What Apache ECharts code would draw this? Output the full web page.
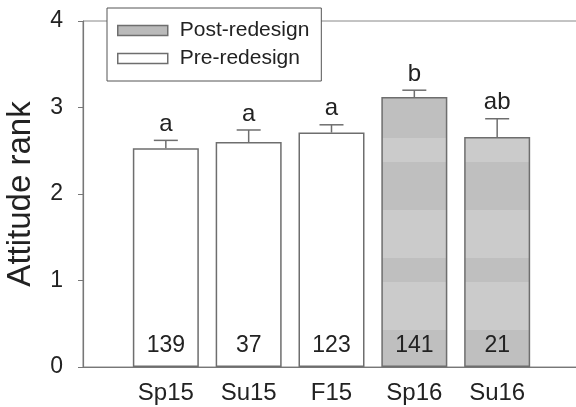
<!DOCTYPE html>
<html>
<head>
<meta charset="utf-8">
<script src="https://cdn.jsdelivr.net/npm/echarts@6/dist/echarts.min.js"></script>
<style>
  html, body { margin: 0; padding: 0; background: #fff; }
  #main { width: 576px; height: 407px; }
</style>
</head>
<body>
<div id="main"></div>
<script>
// data
const categories = ['Sp15', 'Su15', 'F15', 'Sp16', 'Su16'];
const preValues = [2.53, 2.60, 2.71, null, null];
const postValues = [null, null, null, 3.12, 2.66];
const errorUpper = [2.62, 2.74, 2.80, 3.20, 2.87];
const groupLetters = ['a', 'a', 'a', 'b', 'ab'];
const sampleSizes = [139, 37, 123, 141, 21];
const yTicks = [0, 1, 2, 3, 4];

const font = '"Liberation Sans", Arial, sans-serif';
const lineGray = '#6e6e6e';

function toPoints(arr) {
  const out = [];
  arr.forEach((v, i) => { if (v != null) out.push([i + 1, v]); });
  return out;
}

// scan banding of the grey fill (pixel coords)
const bandDark = '#bfbfbf';
const bandLight = '#cbcbcb';
const bands = [138, 162, 210, 258, 282, 330];
const stops = [];
let dark = true;
let prev = 0;
bands.forEach(b => {
  const c = dark ? bandDark : bandLight;
  stops.push({ offset: prev / 407, color: c }, { offset: b / 407, color: c });
  prev = b;
  dark = !dark;
});
stops.push({ offset: prev / 407, color: bandDark }, { offset: 1, color: bandDark });
const postFill = { type: 'linear', x: 0, y: 0, x2: 0, y2: 407, colorStops: stops, global: true };

const barLabel = {
  show: true,
  position: 'insideBottom',
  distance: 10,
  fontSize: 23,
  color: '#222',
  fontFamily: font,
  formatter: p => sampleSizes[p.data[0] - 1]
};

const chart = echarts.init(document.getElementById('main'));
chart.setOption({
  animation: false,
  textStyle: { fontFamily: font },
  grid: {
    left: 83, right: -4, top: 21, bottom: 40,
    show: true, borderColor: '#888', borderWidth: 1,
    outerBoundsMode: 'none'
  },
  legend: {
    orient: 'vertical',
    left: 107, top: 8,
    padding: [12, 12, 12, 10],
    itemGap: 7,
    itemWidth: 50, itemHeight: 10,
    icon: 'rect',
    selectedMode: false,
    backgroundColor: '#fff',
    borderColor: '#555', borderWidth: 1,
    textStyle: { fontSize: 21, color: '#222', fontFamily: font, padding: [0, 0, 0, 7] },
    data: [
      { name: 'Post-redesign', itemStyle: { color: '#bababa', borderColor: lineGray, borderWidth: 1.5 } },
      { name: 'Pre-redesign', itemStyle: { color: '#fff', borderColor: lineGray, borderWidth: 1.5 } }
    ]
  },
  xAxis: {
    type: 'value',
    min: 0, max: 6, interval: 1,
    splitLine: { show: false },
    axisTick: { show: false },
    axisLine: { lineStyle: { color: '#777', width: 1.2 } },
    axisLabel: {
      fontSize: 24, color: '#222', margin: 14,
      formatter: v => categories[v - 1] || ''
    }
  },
  yAxis: {
    type: 'value',
    min: yTicks[0], max: yTicks[yTicks.length - 1], interval: 1,
    splitLine: { show: false },
    axisLine: { show: true, lineStyle: { color: '#777', width: 1.2 } },
    axisTick: { show: true, length: 5, lineStyle: { color: '#777' } },
    axisLabel: { fontSize: 23, color: '#222', margin: 20 },
    name: 'Attitude rank',
    nameLocation: 'middle',
    nameGap: 46,
    nameTextStyle: { fontSize: 33, color: '#222' }
  },
  series: [
    {
      name: 'Post-redesign',
      type: 'bar',
      barWidth: 66,
      barGap: '-100%',
      data: toPoints(postValues),
      itemStyle: { color: postFill, borderColor: lineGray, borderWidth: 1.5 },
      label: barLabel
    },
    {
      name: 'Pre-redesign',
      type: 'bar',
      barWidth: 66,
      barGap: '-100%',
      data: toPoints(preValues),
      itemStyle: { color: '#fff', borderColor: lineGray, borderWidth: 1.5 },
      label: barLabel
    },
    {
      type: 'custom',
      z: 5,
      data: errorUpper.map((u, i) => [i + 1, preValues[i] != null ? preValues[i] : postValues[i], u]),
      renderItem(params, api) {
        const x = api.value(0);
        const base = api.coord([x, api.value(1)]);
        const top = api.coord([x, api.value(2)]);
        const half = 12;
        const st = { stroke: lineGray, lineWidth: 1.5 };
        return {
          type: 'group',
          children: [
            { type: 'line', shape: { x1: top[0], y1: base[1], x2: top[0], y2: top[1] }, style: st },
            { type: 'line', shape: { x1: top[0] - half, y1: top[1], x2: top[0] + half, y2: top[1] }, style: st },
            {
              type: 'text', x: top[0], y: top[1] - 16,
              style: {
                text: groupLetters[params.dataIndex], align: 'center', verticalAlign: 'middle',
                fontSize: 24, fill: '#222', fontFamily: font
              }
            }
          ]
        };
      }
    }
  ]
});
</script>
</body>
</html>
